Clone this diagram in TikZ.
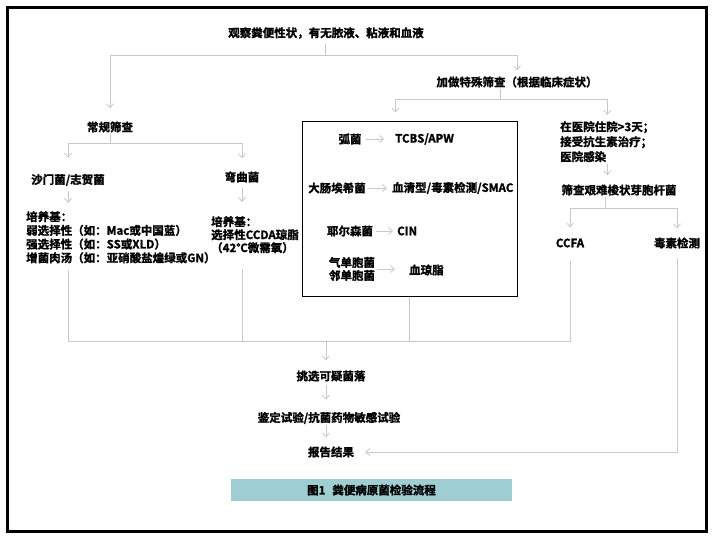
\documentclass[tikz,border=0pt]{standalone}
\usepackage{fontspec}
\setmainfont{Noto Sans CJK SC}[BoldFont={Noto Sans CJK SC Bold},BoldFeatures={FakeBold=1.5}]
\usetikzlibrary{arrows.meta}
\definecolor{linegray}{RGB}{200,200,200}
\definecolor{capteal}{RGB}{158,206,210}

\begin{document}
\begin{tikzpicture}[x=1pt,y=-1pt,
      text node/.style={font=\fontsize{11.5}{14}\selectfont\bfseries,inner sep=1pt},
      block node/.style={text node,align=left,anchor=north west,inner sep=0pt},
      plain line/.style={draw=linegray,line width=0.8pt},
      arrow line/.style={plain line,-{Straight Barb[length=4pt,width=7pt]}}]

  \useasboundingbox (0,0) rectangle (715,537);
  \draw[line width=3pt] (7.5,8) rectangle (706.5,531);

  \node[text node] (obs) at (326,33) {观察粪便性状，有无脓液、粘液和血液};
  \node[text node] (routine) at (110,127) {常规筛查};
  \node[text node] (special) at (517,82) {加做特殊筛查（根据临床症状）};

  \node[text node] (salm) at (68,180) {沙门菌/志贺菌};
  \node[text node] (campy) at (242,177) {弯曲菌};
  \node[block node,font=\fontsize{11.5}{13.7}\selectfont\bfseries] (salm media) at (26,211)
    {培养基：\\弱选择性（如：Mac或中国蓝）\\强选择性（如：SS或XLD）\\增菌肉汤（如：亚硝酸盐煌绿或GN）};
  \node[block node,font=\fontsize{11.5}{13}\selectfont\bfseries] (campy media) at (211,216)
    {培养基：\\选择性CCDA琼脂\\（42℃微需氧）};

  \node[draw,line width=1pt,minimum width=215pt,minimum height=175pt,inner sep=0pt] (box) at (409.5,209.5) {};
  \node[text node] (vib) at (350,139) {弧菌};
  \node[text node,anchor=west] (tcbs) at (394,139) {TCBS/APW};
  \node[text node] (ecoli) at (337,188) {大肠埃希菌};
  \node[text node,anchor=west] (smac) at (391,188) {血清型/毒素检测/SMAC};
  \node[text node] (yers) at (350,231) {耶尔森菌};
  \node[text node,anchor=west] (cin) at (396,231) {CIN};
  \node[text node,align=center,font=\fontsize{11.5}{13}\selectfont\bfseries] (aero) at (352,269) {气单胞菌\\邻单胞菌};
  \node[text node,anchor=west] (blood) at (408,270) {血琼脂};

  \node[block node,font=\fontsize{11.5}{15}\selectfont\bfseries] (hosp) at (560,121)
    {在医院住院>3天；\\接受抗生素治疗；\\医院感染};
  \node[text node] (cdiff) at (619,190) {筛查艰难梭状芽胞杆菌};
  \node[text node] (ccfa) at (570,243) {CCFA};
  \node[text node] (toxin) at (677,243) {毒素检测};

  \node[text node] (pick) at (331,376) {挑选可疑菌落};
  \node[text node] (ident) at (329,418) {鉴定试验/抗菌药物敏感试验};
  \node[text node] (report) at (331,452) {报告结果};
  \node[text node,fill=capteal,minimum width=281pt,minimum height=22pt] (caption) at (371.5,490)
    {图1\hspace{0.6em}粪便病原菌检验流程};

  \coordinate (j obs) at (325,55);
  \coordinate (j routine) at (110,143);
  \coordinate (j special) at (500,99);
  \coordinate (j cdiff) at (605,208);
  \coordinate (join) at (326,341);

  \draw[plain line,shorten <=4pt] (obs.south -| j obs) -- (j obs);
  \draw[arrow line,shorten >=12pt] (j obs) -| (routine.north);
  \draw[arrow line,shorten >=5pt] (j obs) -| (special.north);
  \draw[plain line] (routine.south) -- (j routine);
  \draw[arrow line,shorten >=15pt] (j routine) -| (salm.north);
  \draw[arrow line,shorten >=12pt] (j routine) -| (campy.north);
  \draw[arrow line,shorten <=4pt,shorten >=8pt] (salm.south) -- (salm.south |- salm media.north);
  \draw[arrow line,shorten <=4pt,shorten >=14pt] (campy.south) -- (campy.south |- campy media.north);

  \draw[plain line] (j special |- special.south) -- (j special);
  \draw[arrow line,shorten >=9pt] (j special) -| ([xshift=-14pt]box.north);
  \draw[arrow line,shorten >=6pt] (j special) -| (hosp.north);

  \draw[arrow line,shorten <=3pt,shorten >=10pt] (vib) -- (tcbs);
  \draw[arrow line,shorten <=1pt,shorten >=4pt] (ecoli) -- (smac);
  \draw[arrow line,shorten <=2pt,shorten >=3pt] (yers) -- (cin);
  \draw[arrow line,shorten <=1pt,shorten >=13pt] (aero) -- (aero -| blood.west);

  \draw[arrow line,shorten <=2pt,shorten >=8pt] (hosp.south) -- (hosp.south |- cdiff.north);
  \draw[plain line] (j cdiff |- cdiff.south) -- (j cdiff);
  \draw[arrow line,shorten >=10pt] (j cdiff) -| (ccfa.north);
  \draw[arrow line,shorten >=8pt] (j cdiff) -| (toxin.north);

  \draw[plain line,shorten <=12pt,shorten >=6pt] (ccfa.south) -- (ccfa |- join) -- (salm |- join) -- (salm |- salm media.south);
  \draw[plain line,shorten <=16pt] (campy |- campy media.south) -- (campy |- join);
  \draw[plain line] (box.south) -- (box.south |- join);
  \draw[arrow line,shorten >=9pt] (join) -- (join |- pick.north);
  \draw[arrow line,shorten <=2pt,shorten >=11pt] (join |- pick.south) -- (join |- ident.north);
  \draw[arrow line,shorten >=8pt] (join |- ident.south) -- (join |- report.north);
  \draw[arrow line,shorten <=9pt,shorten >=10pt] (toxin.south) |- (report.east);
\end{tikzpicture}
\end{document}
